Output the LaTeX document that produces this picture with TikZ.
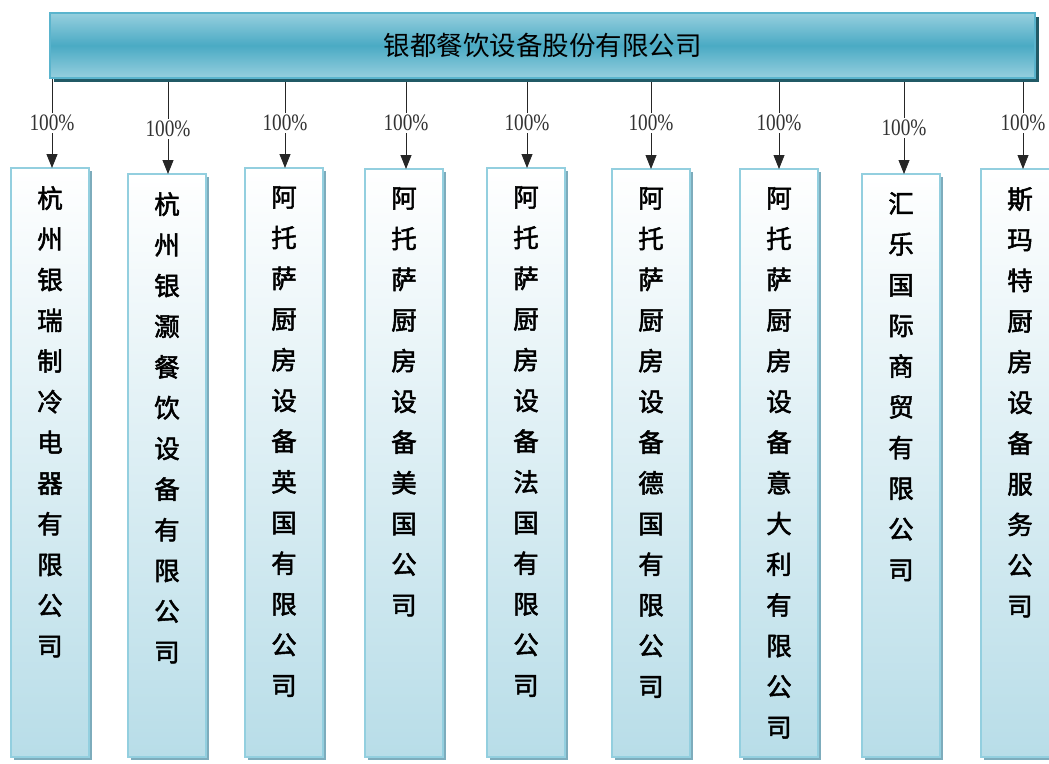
\documentclass[tikz,border=0pt]{standalone}
\usepackage{fontspec}
\setmainfont{Liberation Serif}
\newfontfamily\pctfont[FakeStretch=0.82]{Liberation Serif}
\newfontfamily\cjk{Noto Sans CJK SC}
\newfontfamily\cjkb[FakeBold=2]{Noto Sans CJK SC}
\usetikzlibrary{arrows.meta,shadows,backgrounds}
\definecolor{topmid}{RGB}{74,170,196}
\definecolor{topedge}{RGB}{150,207,222}
\definecolor{topshadow}{RGB}{33,90,102}
\definecolor{topborder}{RGB}{90,180,205}
\definecolor{boxborder}{RGB}{147,207,223}
\definecolor{boxbottom}{RGB}{184,221,232}
\definecolor{boxshadow}{RGB}{125,172,188}
\definecolor{pctgray}{RGB}{50,50,50}
\tikzset{
  parentbox/.style={draw=topborder, line width=1.2pt, top color=topedge, bottom color=topedge, middle color=topmid,
    drop shadow={shadow xshift=3.5pt, shadow yshift=-4pt, fill=topshadow, opacity=1},
    inner sep=0pt, outer sep=0pt, font=\cjk\fontsize{26.5pt}{30pt}\selectfont},
  childbox/.style={draw=boxborder, line width=2pt, top color=white, bottom color=boxbottom,
    drop shadow={shadow xshift=2.5pt, shadow yshift=-2.5pt, fill=boxshadow, opacity=1},
    minimum width=78pt, inner sep=0pt, outer sep=0pt, anchor=north},
  childtext/.style={align=center, inner sep=0pt, anchor=north, font=\cjkb\fontsize{25.5pt}{40.7pt}\selectfont},
  pct/.style={inner sep=2pt, text=pctgray, font=\pctfont\fontsize{23.5pt}{26pt}\selectfont},
  conn/.style={draw=black!85, line width=0.8pt},
  arr/.style={conn, -{Triangle[width=11pt,length=14pt]}}
}
\begin{document}
\begin{tikzpicture}[x=1pt,y=-1pt]
\useasboundingbox (0,0) rectangle (1049,763);
\clip (0,0) rectangle (1049,763);

\node[parentbox, minimum width=985pt, minimum height=65pt, anchor=north west] (parent) at (50,13) {银都餐饮设备股份有限公司};

% child boxes
\node[childbox, minimum height=589pt] (c1) at (50,168) {};
\node[childbox, minimum height=583pt] (c2) at (167,174) {};
\node[childbox, minimum height=589pt] (c3) at (284,168) {};
\node[childbox, minimum height=588pt] (c4) at (404,169) {};
\node[childbox, minimum height=589pt] (c5) at (526,168) {};
\node[childbox, minimum height=588pt] (c6) at (651,169) {};
\node[childbox, minimum height=588pt] (c7) at (779,169) {};
\node[childbox, minimum height=583pt] (c8) at (901,174) {};
\node[childbox, minimum height=588pt] (c9) at (1020,169) {};

% child texts
\node[childtext] (t1) at ([yshift=-18pt]c1.north) {杭\\州\\银\\瑞\\制\\冷\\电\\器\\有\\限\\公\\司};
\node[childtext] (t2) at ([yshift=-18pt]c2.north) {杭\\州\\银\\灏\\餐\\饮\\设\\备\\有\\限\\公\\司};
\node[childtext] (t3) at ([yshift=-18pt]c3.north) {阿\\托\\萨\\厨\\房\\设\\备\\英\\国\\有\\限\\公\\司};
\node[childtext] (t4) at ([yshift=-18pt]c4.north) {阿\\托\\萨\\厨\\房\\设\\备\\美\\国\\公\\司};
\node[childtext] (t5) at ([yshift=-18pt]c5.north) {阿\\托\\萨\\厨\\房\\设\\备\\法\\国\\有\\限\\公\\司};
\node[childtext] (t6) at ([yshift=-18pt]c6.north) {阿\\托\\萨\\厨\\房\\设\\备\\德\\国\\有\\限\\公\\司};
\node[childtext] (t7) at ([yshift=-18pt]c7.north) {阿\\托\\萨\\厨\\房\\设\\备\\意\\大\\利\\有\\限\\公\\司};
\node[childtext] (t8) at ([yshift=-18pt]c8.north) {汇\\乐\\国\\际\\商\\贸\\有\\限\\公\\司};
\node[childtext] (t9) at ([yshift=-18pt]c9.north) {斯\\玛\\特\\厨\\房\\设\\备\\服\\务\\公\\司};

% percentage labels
\node[pct] (p1) at (52,123) {100\%};
\node[pct] (p2) at (168,129) {100\%};
\node[pct] (p3) at (285,123) {100\%};
\node[pct] (p4) at (406,123) {100\%};
\node[pct] (p5) at (527,123) {100\%};
\node[pct] (p6) at (651,123) {100\%};
\node[pct] (p7) at (779,123) {100\%};
\node[pct] (p8) at (904,128) {100\%};
\node[pct] (p9) at (1023,123) {100\%};

\begin{scope}[on background layer]
\foreach \i in {1,...,9}{
  \draw[conn] (parent.south -| p\i) -- (p\i.north);
}
\end{scope}
\foreach \i in {1,...,9}{
  \draw[arr] (p\i.south) -- (p\i.south |- c\i.north);
}
\end{tikzpicture}
\end{document}
